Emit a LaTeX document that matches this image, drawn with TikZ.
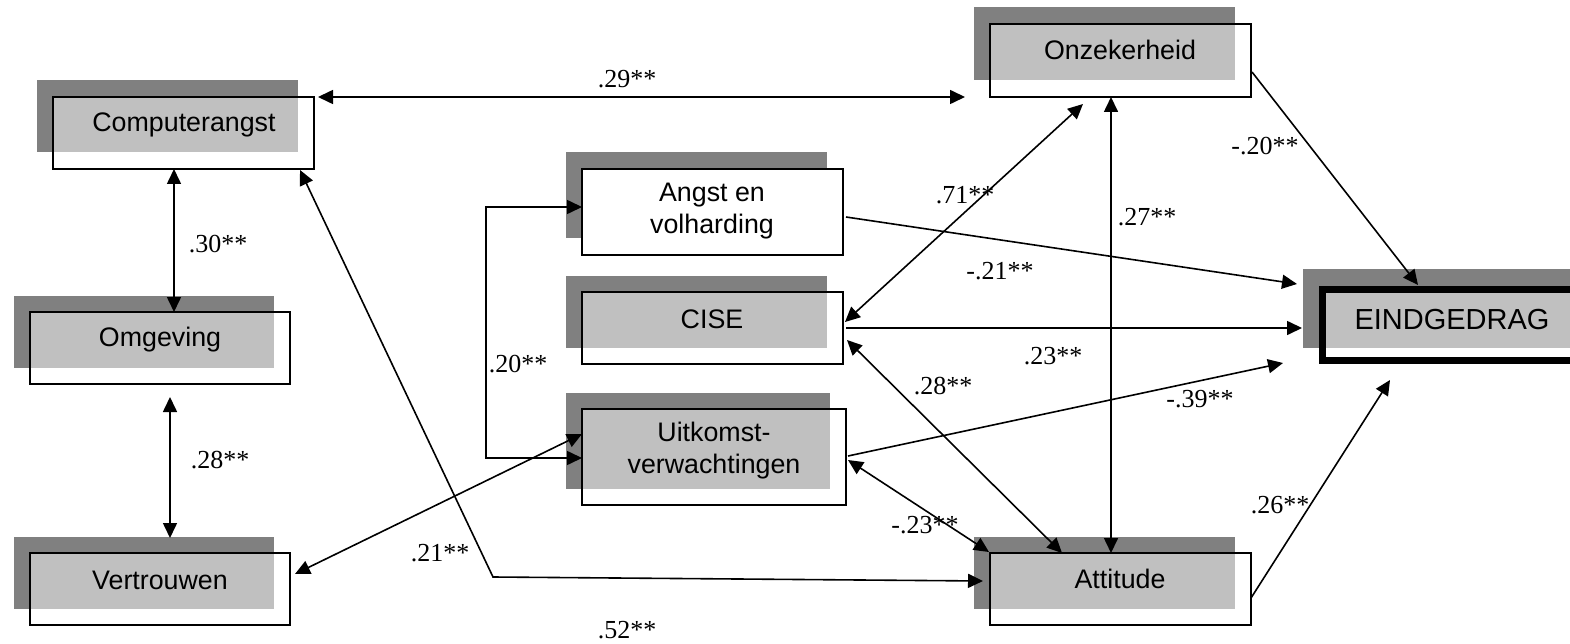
\documentclass[tikz,border=0pt]{standalone}
\usepackage{fontspec}
\setmainfont{Liberation Serif}
\newfontfamily\boxfont{Liberation Sans}
\usetikzlibrary{arrows.meta,backgrounds}

\definecolor{shadowgray}{HTML}{808080}
\definecolor{panelgray}{HTML}{C0C0C0}

\tikzset{
  box/.style={draw, line width=1.5pt, inner sep=0pt, outer sep=0pt},
  btext/.style={font=\boxfont\fontsize{26.8}{32}\selectfont, align=center, inner sep=0pt},
  coef/.style={font=\fontsize{26}{30}\selectfont, inner sep=0pt},
  tip/.tip={Triangle[length=15pt,width=14pt]},
  oneway/.style={line width=1.6pt, -tip},
  twoway/.style={line width=1.6pt, tip-tip},
}

% dark offset shadow plus white box face
\newcommand\dropshade[1]{%
  \fill[shadowgray] ([shift={(-16,-16.5)}]#1.north west) rectangle ([shift={(-16,-16.5)}]#1.south east);
  \fill[white] (#1.north west) rectangle (#1.south east);}
% light grey panel where box and shadow overlap
\newcommand\panelfill[1]{%
  \fill[panelgray] (#1.north west) rectangle ([shift={(-16,-16.5)}]#1.south east);}

\begin{document}
\begin{tikzpicture}[x=1pt,y=-1pt]
\useasboundingbox (0,0) rectangle (1570,644);

% boxes
\node[box, minimum width=261pt, minimum height=72pt] (ca) at (183.5,133) {};
\node[box, minimum width=261pt, minimum height=73pt] (on) at (1120.5,60.5) {};
\node[box, minimum width=260pt, minimum height=72pt] (om) at (160,348) {};
\node[box, minimum width=260pt, minimum height=72pt] (ve) at (160,589) {};
\node[box, minimum width=261pt, minimum height=86pt] (av) at (712.5,212) {};
\node[box, minimum width=261pt, minimum height=72pt] (ci) at (712.5,328) {};
\node[box, minimum width=264pt, minimum height=96pt] (uv) at (714,457) {};
\node[box, minimum width=261pt, minimum height=72pt] (at) at (1120.5,589) {};
\node[draw, line width=7pt, inner sep=0pt, outer sep=0pt,
      minimum width=277.5pt, minimum height=70.5pt] (ei) at (1461.25,324.75) {};

\begin{scope}[on background layer]
  \dropshade{ca}\panelfill{ca}
  \dropshade{on}\panelfill{on}
  \dropshade{om}\panelfill{om}
  \dropshade{ve}\panelfill{ve}
  \dropshade{av}
  \dropshade{ci}\panelfill{ci}
  \dropshade{uv}\panelfill{uv}
  \dropshade{at}\panelfill{at}
  \fill[shadowgray] ([shift={(-19.5,-20.5)}]ei.north west) rectangle ([shift={(40,-12)}]ei.south east);
  \fill[white] (ei.north west) rectangle (ei.south east);
  \fill[panelgray] (ei.north west) rectangle ([shift={(40,-12)}]ei.south east);
\end{scope}

% box texts
\node[btext] (ca-t) at (184,125) {Computerangst};
\node[btext] (on-t) at (1120,50) {Onzekerheid};
\node[btext] (om-t) at (160,340) {Omgeving};
\node[btext] (ve-t) at (160,580) {Vertrouwen};
\node[btext] (av-t) at (712,211) {Angst en\\volharding};
\node[btext] (ci-t) at (712,319) {CISE};
\node[btext] (uv-t) at (714,451) {Uitkomst-\\verwachtingen};
\node[btext] (at-t) at (1120,579) {Attitude};
\node[btext, font=\boxfont\fontsize{29}{34}\selectfont] (ei-t) at (1452,320) {EINDGEDRAG};

% correlations and paths
\coordinate (bend52) at (493,577);
\draw[twoway] ([xshift=4]ca.north east) -- ([xshift=-25]on.south west);
\draw[twoway] ([xshift=-9.5]ca.south) -- ([xshift=14]om.north);
\draw[twoway] ([shift={(10,13)}]om.south) -- ([shift={(10,-15)}]ve.north);
\draw[twoway] ([shift={(-14,1)}]ca.south east) -- (bend52) -- ([shift={(-7,-8)}]at.west);
\draw[twoway] ([shift={(5,-15)}]ve.east) -- ([yshift=23]uv.west);
\draw[twoway] ([yshift=5]av.west) -- ++(-96,0) |- ([yshift=-1]uv.west);
\draw[oneway] ([shift={(3,5)}]av.east) -- ([shift={(-25.5,-40.75)}]ei.west);
\draw[oneway] ([shift={(3,0)}]ci.east) -- ([shift={(-20.5,3.25)}]ei.west);
\draw[oneway] ([shift={(2,-1)}]uv.east) -- ([shift={(-39.5,38.25)}]ei.west);
\draw[oneway] ([yshift=-9]at.east) -- ([shift={(-71.25,20)}]ei.south);
\draw[oneway] ([shift={(1,11.5)}]on.east) -- ([shift={(-43.25,-4.5)}]ei.north);
\draw[twoway] ([xshift=-9.5]on.south) -- ([xshift=-9.5]at.north);
\draw[twoway] ([shift={(2,-6)}]ci.east) -- ([shift={(-37.5,7)}]on.south);
\draw[twoway] ([shift={(4,12)}]ci.east) -- ([shift={(-58.5,0)}]at.north);
\draw[twoway] ([shift={(2,3)}]uv.east) -- ([shift={(-1,-1)}]at.north west);

% coefficients
\node[coef] (c29) at (627,79) {.29**};
\node[coef] (c30) at (218,244) {.30**};
\node[coef] (c28a) at (220,460) {.28**};
\node[coef] (c52) at (627,630) {.52**};
\node[coef] (c21a) at (440,553) {.21**};
\node[coef] (c20a) at (518,364) {.20**};
\node[coef] (c71) at (965,195) {.71**};
\node[coef] (c21b) at (1000,271) {-.21**};
\node[coef] (c23a) at (1053,356) {.23**};
\node[coef] (c28b) at (943,386) {.28**};
\node[coef] (c23b) at (925,525) {-.23**};
\node[coef] (c27) at (1147,217) {.27**};
\node[coef] (c20b) at (1265,146) {-.20**};
\node[coef] (c39) at (1200,399) {-.39**};
\node[coef] (c26) at (1280,505) {.26**};
\end{tikzpicture}
\end{document}
